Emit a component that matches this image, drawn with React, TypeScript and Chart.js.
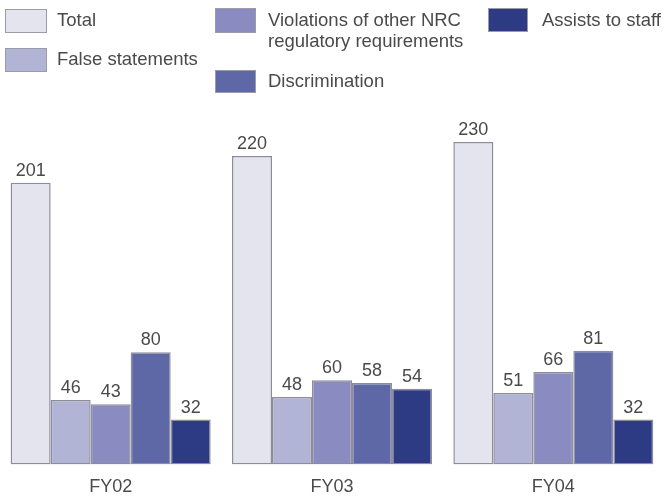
import React, { useEffect, useRef } from "react";
import { Chart, registerables } from "chart.js";

Chart.register(...registerables);

const categories = ["FY02", "FY03", "FY04"];
const seriesLabels = [
  "Total",
  "False statements",
  "Violations of other NRC regulatory requirements",
  "Discrimination",
  "Assists to staff",
];
const totalValues = [201, 220, 230];
const falseStatementValues = [46, 48, 51];
const violationValues = [43, 60, 66];
const discriminationValues = [80, 58, 81];
const assistValues = [32, 54, 32];
const seriesColors = ["#e4e4ef", "#b2b4d6", "#8a8cc1", "#5e68a6", "#2d3a84"];

const FONT = "'Liberation Sans', Arial, Helvetica, sans-serif";
const TEXT = "#4a4a4a";

const valueLabelPlugin = {
  id: "valueLabels",
  afterDatasetsDraw(chart: any) {
    const ctx = chart.ctx;
    ctx.save();
    ctx.font = `18px ${FONT}`;
    ctx.fillStyle = TEXT;
    ctx.textAlign = "center";
    ctx.textBaseline = "bottom";
    chart.data.datasets.forEach((ds: any, i: number) => {
      const meta = chart.getDatasetMeta(i);
      meta.data.forEach((bar: any, j: number) => {
        ctx.fillText(String(ds.data[j]), bar.x, bar.y - 3);
      });
    });
    ctx.restore();
  },
};

const legendPlaces = [
  { box: [5, 9, 42, 24], text: [57, 9] },
  { box: [5, 48, 42, 24], text: [57, 48] },
  { box: [215, 8, 41, 25], text: [268, 9], lines: ["Violations of other NRC", "regulatory requirements"] },
  { box: [215, 70, 41, 23], text: [268, 70] },
  { box: [488, 8, 40, 24], text: [542, 9] },
];

export default function App() {
  const ref = useRef<HTMLCanvasElement>(null);
  useEffect(() => {
    const values = [totalValues, falseStatementValues, violationValues, discriminationValues, assistValues];
    const chart = new Chart(ref.current!, {
      type: "bar",
      data: {
        labels: categories,
        datasets: seriesLabels.map((label, i) => ({
          label,
          data: values[i],
          backgroundColor: seriesColors[i],
          borderColor: "#8c8c9a",
          borderWidth: 1.5,
          borderSkipped: false,
          categoryPercentage: 0.9036,
          barPercentage: 1,
        })),
      },
      options: {
        animation: false,
        responsive: false,
        devicePixelRatio: 1,
        layout: { padding: { top: 114, right: 1, left: 0, bottom: 0 } },
        plugins: { legend: { display: false }, tooltip: { enabled: false } },
        scales: {
          x: {
            grid: { display: false, drawTicks: false },
            border: { display: false },
            ticks: { color: TEXT, font: { size: 18, family: FONT }, padding: 12 },
          },
          y: { display: false, min: 0, max: 250 },
        },
      },
      plugins: [valueLabelPlugin],
    });
    return () => chart.destroy();
  }, []);

  return (
    <div style={{ position: "absolute", left: 0, top: 0, width: 665, height: 496, background: "#fff", overflow: "hidden" }}>
      <canvas ref={ref} width={665} height={510} style={{ position: "absolute", left: 0, top: 0 }} />
      {legendPlaces.map((p, i) => (
        <React.Fragment key={i}>
          <div
            style={{
              position: "absolute",
              left: p.box[0],
              top: p.box[1],
              width: p.box[2],
              height: p.box[3],
              boxSizing: "border-box",
              background: seriesColors[i],
              border: "1px solid #9a9aa8",
            }}
          />
          <div
            style={{
              position: "absolute",
              left: p.text[0],
              top: p.text[1],
              font: `18.5px ${FONT}`,
              lineHeight: "21px",
              color: TEXT,
              whiteSpace: "nowrap",
            }}
          >
            {(p.lines || [seriesLabels[i]]).map((l, k) => (
              <div key={k}>{l}</div>
            ))}
          </div>
        </React.Fragment>
      ))}
    </div>
  );
}
